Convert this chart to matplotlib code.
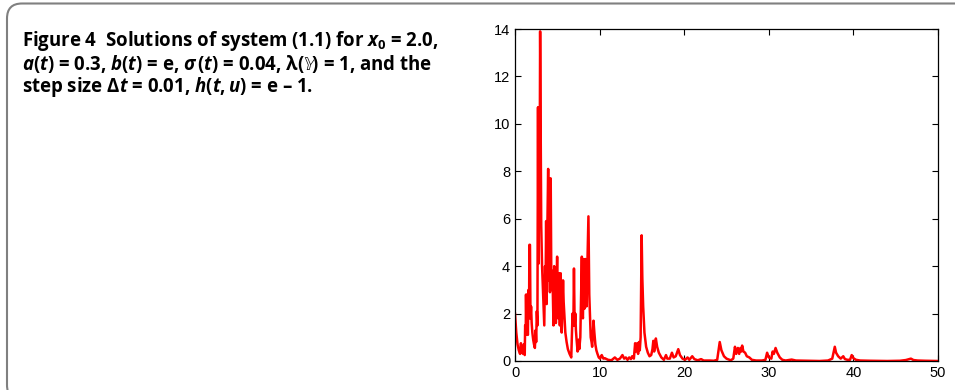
import matplotlib
matplotlib.use("Agg")
import matplotlib.pyplot as plt
from matplotlib.patches import FancyBboxPatch

# solution path
t = [0.0, 0.15, 0.3, 0.45, 0.6, 0.7, 0.8, 0.95, 1.05, 1.15, 1.2, 1.27, 1.3, 1.36, 1.45, 1.52,
     1.6, 1.66, 1.7, 1.77, 1.83, 1.9, 1.97, 2.05, 2.15, 2.25, 2.35, 2.44, 2.5, 2.58, 2.65,
     2.72, 2.77, 2.82, 2.9, 2.97, 3.05, 3.1, 3.2, 3.3, 3.4, 3.46, 3.55, 3.62, 3.68, 3.74,
     3.84, 3.92, 3.98, 4.06, 4.13, 4.22, 4.3, 4.42, 4.55, 4.63, 4.72, 4.83, 4.98, 5.05,
     5.1, 5.2, 5.3, 5.4, 5.52, 5.68, 5.75, 5.83, 5.95, 6.1, 6.25, 6.45, 6.65, 6.8, 6.9,
     6.97, 7.05, 7.13, 7.2, 7.28, 7.4, 7.52, 7.6, 7.72, 7.9, 7.97, 8.03, 8.12, 8.2, 8.35,
     8.45, 8.55, 8.68, 8.78, 8.85, 8.95, 9.05, 9.12, 9.28, 9.38, 9.5, 9.62, 9.75, 9.9,
     10.05, 10.25, 10.45, 10.6, 11.0, 11.4, 11.8, 12.1, 12.4, 12.7, 12.9, 13.1, 13.3, 13.5,
     13.7, 13.85, 14.05, 14.2, 14.3, 14.45, 14.55, 14.65, 14.75, 14.85, 14.97, 15.05,
     15.15, 15.3, 15.5, 15.7, 15.9, 16.1, 16.25, 16.35, 16.45, 16.65, 16.8, 17.0, 17.3,
     17.6, 17.85, 18.0, 18.3, 18.55, 18.75, 19.0, 19.3, 19.5, 19.8, 20.1, 20.4, 20.6,
     20.95, 21.2, 21.6, 22.0, 22.3, 23.0, 23.5, 23.9, 24.2, 24.4, 24.7, 25.0, 25.5, 25.8,
     26.0, 26.15, 26.35, 26.5, 26.65, 26.75, 26.85, 27.0, 27.2, 27.4, 27.7, 28.0, 28.5,
     29.2, 29.6, 29.8, 30.0, 30.3, 30.45, 30.6, 30.8, 31.0, 31.3, 31.6, 32.0, 32.7, 33.2,
     34.5, 36.0, 37.0, 37.5, 37.8, 37.95, 38.2, 38.5, 38.8, 39.0, 39.3, 39.6, 39.8, 40.0,
     40.3, 40.8, 42.0, 44.0, 45.5, 46.2, 46.8, 47.1, 47.6, 48.5, 50.0]
x = [2.0, 1.2, 0.7, 0.45, 0.3, 0.75, 0.4, 0.3, 0.7, 0.25, 1.5, 1.1, 2.8, 1.2, 2.8, 1.1,
     3.0, 1.8, 4.9, 4.9, 1.8, 2.3, 1.6, 1.2, 0.9, 0.7, 0.55, 1.3, 0.8, 2.1, 1.5,
     10.7, 4.1, 10.7, 5.7, 13.9, 9.0, 5.7, 4.0, 3.0, 2.0, 1.5, 4.0, 3.3, 5.9, 2.4,
     6.0, 8.1, 3.4, 7.7, 2.9, 7.7, 3.0, 3.8, 1.5, 4.0, 3.8, 1.6, 4.4, 2.4,
     1.8, 3.7, 1.5, 3.7, 1.2, 3.4, 2.5, 2.0, 1.2, 0.8, 0.5, 0.3, 0.15, 2.0, 1.5,
     3.9, 1.5, 2.0, 1.3, 0.9, 0.4, 0.9, 0.5, 1.0, 4.4, 2.0, 1.8, 4.3, 2.2, 4.3,
     2.3, 4.0, 6.1, 2.8, 2.0, 1.0, 0.8, 0.6, 1.7, 1.2, 0.7, 0.45, 0.3, 0.15,
     0.1, 0.25, 0.1, 0.12, 0.05, 0.03, 0.15, 0.05, 0.1, 0.25, 0.1, 0.15, 0.05, 0.15,
     0.08, 0.2, 0.1, 0.75, 0.4, 0.75, 0.3, 0.8, 0.45, 1.0, 5.3, 3.5,
     2.3, 1.2, 0.6, 0.35, 0.2, 0.25, 0.5, 0.85, 0.4, 0.95, 0.6, 0.35, 0.15,
     0.05, 0.25, 0.1, 0.1, 0.35, 0.15, 0.2, 0.5, 0.25, 0.1, 0.05, 0.15, 0.05,
     0.2, 0.08, 0.03, 0.08, 0.02, 0.02, 0.01, 0.05, 0.8, 0.45, 0.2, 0.1, 0.03, 0.1,
     0.6, 0.3, 0.55, 0.3, 0.55, 0.4, 0.65, 0.4, 0.35, 0.2, 0.15, 0.05, 0.02,
     0.02, 0.05, 0.35, 0.15, 0.1, 0.4, 0.3, 0.55, 0.35, 0.15, 0.05, 0.02, 0.06, 0.02,
     0.01, 0.0, 0.02, 0.1, 0.6, 0.35, 0.2, 0.1, 0.2, 0.08, 0.05, 0.05, 0.25, 0.12,
     0.05, 0.02, 0.01, 0.0, 0.01, 0.04, 0.1, 0.04, 0.02, 0.01, 0.0]

xticks = [0, 10, 20, 30, 40, 50]
yticks = [0, 2, 4, 6, 8, 10, 12, 14]

caption = [
    r"Figure 4  Solutions of system (1.1) for $x_0$ = 2.0,",
    r"$a(t)$ = 0.3, $b(t)$ = e, $\sigma\,(t)$ = 0.04, λ($\mathbb{Y}$) = 1, and the",
    r"step size $\mathbf{\Delta}t$ = 0.01, $h(t, u)$ = e – 1.",
]

plt.rcParams["mathtext.fontset"] = "custom"
plt.rcParams["mathtext.rm"] = "Open Sans:bold"
plt.rcParams["mathtext.it"] = "Open Sans:italic:bold"
plt.rcParams["mathtext.bf"] = "Open Sans:bold"
plt.rcParams["mathtext.fallback"] = "stix"

fig = plt.figure(figsize=(9.55, 3.9), dpi=100)

# frame with rounded corner, runs off the right and bottom edges
frame = FancyBboxPatch((0.07, -0.10), 10.0, 3.965,
                       boxstyle="round,pad=0,rounding_size=0.15",
                       transform=fig.dpi_scale_trans, facecolor="none",
                       edgecolor="#808080", linewidth=1.5, clip_on=False)
fig.patches.append(frame)

for i, line in enumerate(caption):
    fig.text(22 / 955, 1 - (41 + 23 * i) / 390, line, fontsize=13.4,
             fontweight="bold", family=["Open Sans", "DejaVu Sans"],
             va="center", ha="left")

ax = fig.add_axes([515 / 955, 1 - 361 / 390, 423 / 955, 332 / 390])
ax.plot(t, x, color="red", linewidth=1.8)
ax.set_xlim(0, 50)
ax.set_ylim(0, 14)
ax.set_xticks(xticks)
ax.set_yticks(yticks)
ax.tick_params(direction="in", top=True, right=True, length=4, width=0.8,
               labelsize=10.5, pad=3.5)
for lab in ax.get_xticklabels() + ax.get_yticklabels():
    lab.set_family("Liberation Sans")
for s in ax.spines.values():
    s.set_linewidth(0.9)

fig.savefig("out.png", dpi=100)
